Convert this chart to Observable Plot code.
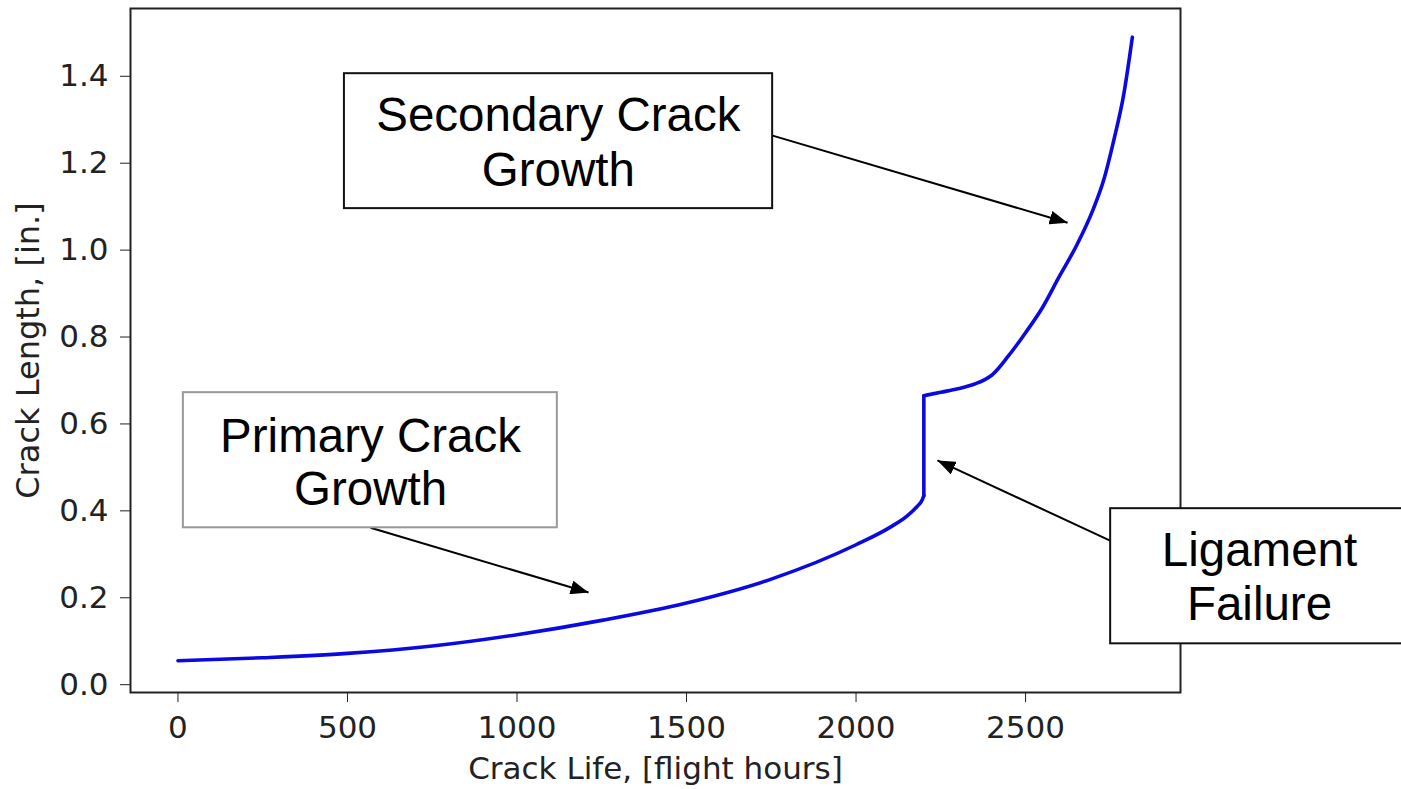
<!DOCTYPE html>
<html><head><meta charset="utf-8">
<script src="https://cdn.jsdelivr.net/npm/d3@7"></script>
<script src="https://cdn.jsdelivr.net/npm/@observablehq/plot@0.6"></script>
<style>html,body{margin:0;padding:0;background:#fff;overflow:hidden}</style>
</head><body><div id="chart"></div>
<script>
// Crack growth curve (flight hours vs crack length, in.)
const hours = [0, 250, 500, 750, 1000, 1250, 1500, 1750, 2000, 2100, 2150, 2180, 2195, 2200,
               2200, 2200,
               2200, 2250, 2300, 2350, 2380, 2400, 2450, 2500, 2550, 2600, 2650, 2700, 2730, 2760, 2790, 2815];
const lengthIn = [0.055, 0.062, 0.072, 0.089, 0.115, 0.148, 0.188, 0.243, 0.322, 0.362, 0.388, 0.410, 0.425, 0.435,
                  0.435, 0.665,
                  0.665, 0.673, 0.681, 0.692, 0.702, 0.712, 0.757, 0.810, 0.868, 0.940, 1.010, 1.095, 1.160, 1.252, 1.360, 1.490];
const phase = [...Array(14).fill("primary"), "jump", "jump", ...Array(16).fill("secondary")];

const xTicks = [0, 500, 1000, 1500, 2000, 2500];
const yTicks = [0.0, 0.2, 0.4, 0.6, 0.8, 1.0, 1.2, 1.4];
const xLabel = "Crack Life, [flight hours]";
const yLabel = "Crack Length, [in.]";

// Annotations (data coordinates)
const noteText = ["Secondary Crack\nGrowth", "Primary Crack\nGrowth", "Ligament\nFailure"];
const noteX = [1122, 568, 3190];
const noteY = [1.252, 0.513, 0.251];
const noteLineHeight = [1.17, 1.1, 1.14];
const boxX1 = [491, 16, 2751];
const boxX2 = [1754, 1119, 3665];
const boxY1 = [1.0955, 0.361, 0.094];
const boxY2 = [1.406, 0.672, 0.405];
const boxStroke = ["#111", "#999", "#111"];
const tailX = [1754, 568, 2751];
const tailY = [1.2635, 0.361, 0.331];
const tipX = [2624, 1211, 2240];
const tipY = [1.063, 0.212, 0.516];

const curve = hours.map((h, i) => ({h, v: lengthIn[i], p: phase[i]}));
const notes = noteText.map((t, i) => ({t, x: noteX[i], y: noteY[i], lh: noteLineHeight[i],
  x1: boxX1[i], x2: boxX2[i], y1: boxY1[i], y2: boxY2[i], s: boxStroke[i],
  tx: tailX[i], ty: tailY[i], hx: tipX[i], hy: tipY[i]}));

const svg = Plot.plot({
  width: 1401,
  height: 789,
  marginLeft: 130,
  marginRight: 221,
  marginTop: 8,
  marginBottom: 97,
  style: {fontFamily: "DejaVu Sans", fontSize: "31px", color: "#222", background: "#fff", overflow: "hidden"},
  x: {domain: [-140, 2957], ticks: xTicks, tickFormat: d3.format("d"), tickSize: 10, tickPadding: 13, label: null},
  y: {domain: [-0.018, 1.556], ticks: yTicks, tickFormat: d3.format(".1f"), tickSize: 10, tickPadding: 12, label: null},
  marks: [
    Plot.line(curve, {x: "h", y: "v", z: "p", curve: "monotone-x", stroke: "#0a0ae0", strokeWidth: 3.6, strokeLinecap: "round", strokeLinejoin: "round"}),
    Plot.frame({stroke: "#222", strokeWidth: 2}),
    Plot.link(notes, {x1: "tx", y1: "ty", x2: "hx", y2: "hy", stroke: "#000", strokeWidth: 2}),
    Plot.rect(notes, {x1: "x1", x2: "x2", y1: "y1", y2: "y2", fill: "#fff", stroke: "s", strokeWidth: 2}),
    ...notes.map(n => Plot.text([n], {x: "x", y: "y", text: "t", fontSize: 47.5, fontFamily: "Liberation Sans, Arial, sans-serif", fill: "#000", lineHeight: n.lh, lineAnchor: "middle"})),
    Plot.text([xLabel], {frameAnchor: "bottom", dy: 77, fontSize: 31, fill: "#222", textAnchor: "middle", lineAnchor: "middle"}),
    Plot.text([yLabel], {frameAnchor: "left", dx: -102, rotate: -90, fontSize: 32, fill: "#222", textAnchor: "middle", lineAnchor: "middle"})
  ]
});

// filled arrowheads for the annotation links
const sel = d3.select(svg);
const defs = sel.insert("defs", ":first-child");
defs.append("marker")
  .attr("id", "ahead")
  .attr("viewBox", "0 0 18 14")
  .attr("refX", 18).attr("refY", 7)
  .attr("markerWidth", 18).attr("markerHeight", 14)
  .attr("markerUnits", "userSpaceOnUse")
  .attr("orient", "auto")
  .append("path").attr("d", "M0,0L18,7L0,14Z").attr("fill", "#000");
sel.selectAll("g[aria-label='link'] path").attr("marker-end", "url(#ahead)");

document.getElementById("chart").appendChild(svg);
</script>
</body></html>
